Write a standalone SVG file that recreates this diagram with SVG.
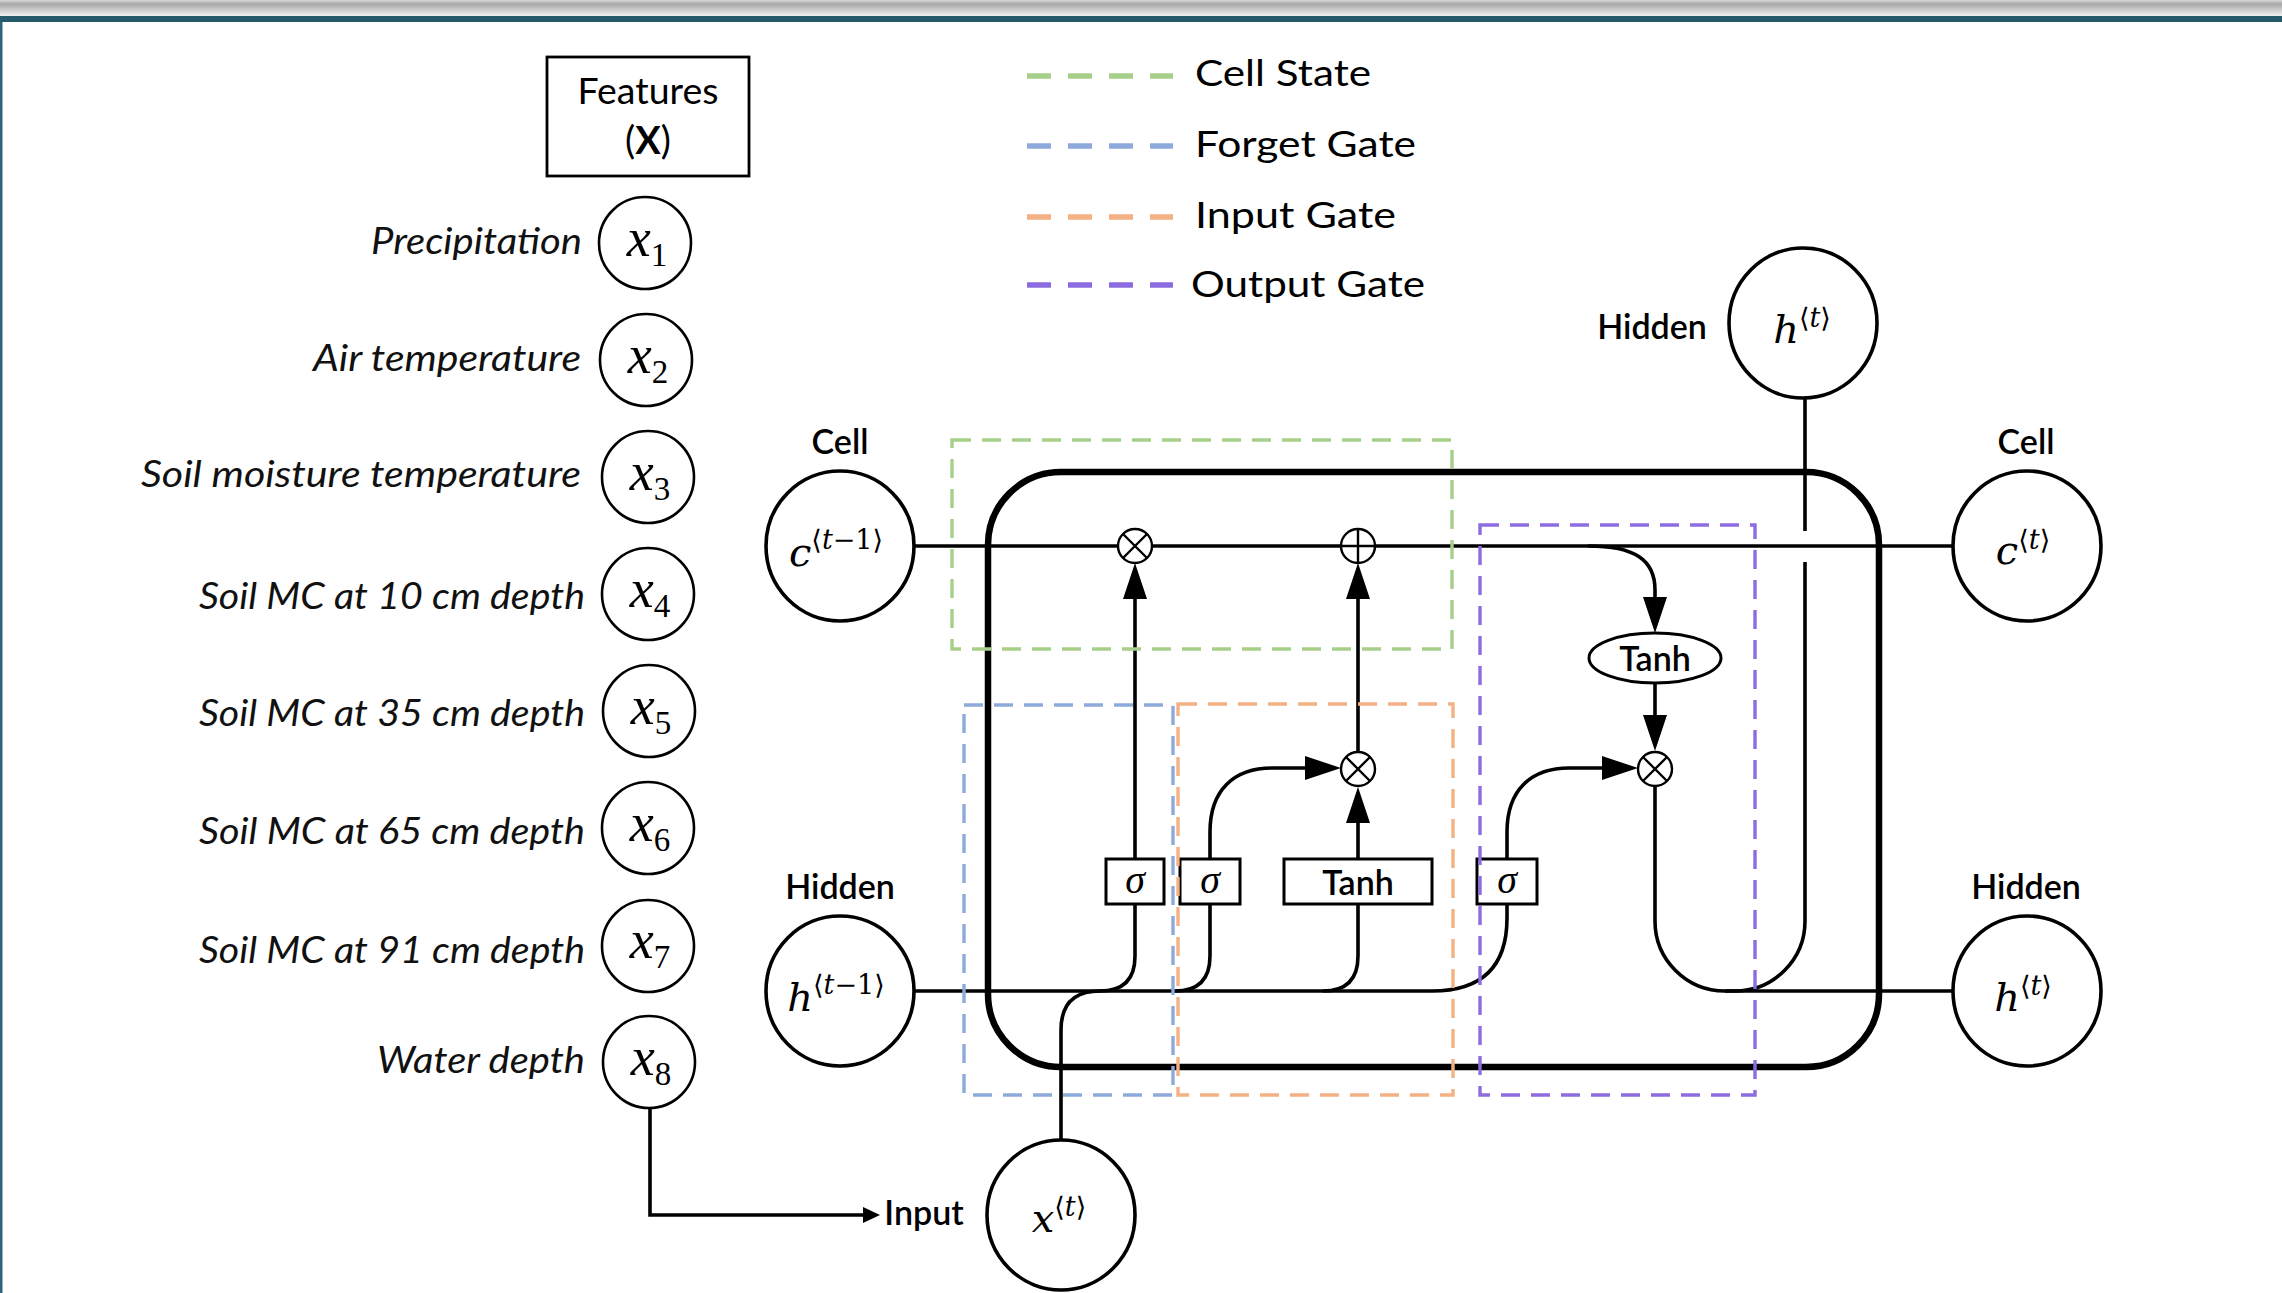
<svg xmlns="http://www.w3.org/2000/svg" width="2282" height="1293" viewBox="0 0 2282 1293">
<defs>
<linearGradient id="topbar" x1="0" y1="0" x2="0" y2="1">
<stop offset="0" stop-color="#d8d8d8"/>
<stop offset="0.25" stop-color="#a8a8a8"/>
<stop offset="1" stop-color="#f2f2f2"/>
</linearGradient>
<marker id="arr" markerUnits="userSpaceOnUse" markerWidth="36" markerHeight="24" refX="0" refY="12" orient="auto">
<path d="M0,0 L36,12 L0,24 z" fill="#000"/>
</marker>
<marker id="arrs" markerUnits="userSpaceOnUse" markerWidth="17" markerHeight="16" refX="0" refY="8" orient="auto">
<path d="M0,0 L17,8 L0,16 z" fill="#000"/>
</marker>
</defs>
<style>
.lbl{font-family:Lato,"Open Sans","Liberation Sans",sans-serif;fill:#000}
.feat{font-family:Lato,"Open Sans","Liberation Sans",sans-serif;font-style:italic;font-size:36px;text-anchor:end;fill:#111}
.leg{font-family:Lato,"Open Sans","Liberation Sans",sans-serif;font-size:36px;fill:#000}
.gill{font-family:Lato,"Open Sans","Liberation Sans",sans-serif;font-size:34px;font-weight:600;fill:#000;text-anchor:middle}
.math{font-family:"Liberation Serif","DejaVu Serif",serif;fill:#000;text-anchor:middle}
.cm{font-family:"DejaVu Serif","Liberation Serif",serif;fill:#000;text-anchor:middle}
.fc{fill:#fff;stroke:#000;stroke-width:2.6}
.nc{fill:#fff;stroke:#000;stroke-width:3.6}
.box{fill:#fff;stroke:#000;stroke-width:3}
.ln{fill:none;stroke:#000;stroke-width:3.6}
.thick{fill:none;stroke:#000;stroke-width:6.5}
.op{fill:#fff;stroke:#000;stroke-width:2.4}
.opx{stroke:#000;stroke-width:2.4}
.dash{fill:none;stroke-width:3.4;stroke-dasharray:19 11}
.legd{stroke-width:5.5;stroke-dasharray:24 17}
</style>
<rect x="0" y="0" width="2282" height="1293" fill="#fff"/>
<rect x="0" y="0" width="2282" height="16" fill="url(#topbar)"/>
<rect x="0" y="16" width="2282" height="6" fill="#275b6b"/>
<rect x="0" y="22" width="2.5" height="1271" fill="#2f6677"/>

<g id="features-header">
<rect x="547" y="57" width="202" height="119" fill="#fff" stroke="#000" stroke-width="2.8"/>
<text class="lbl" x="648" y="104" font-size="37" text-anchor="middle" textLength="141" lengthAdjust="spacingAndGlyphs">Features</text>
<text class="lbl" x="648" y="154" font-size="38" text-anchor="middle">(<tspan font-weight="bold">X</tspan>)</text>
</g>

<g id="feature-x1"><text class="feat" x="582" y="254" textLength="211" lengthAdjust="spacingAndGlyphs">Precipitation</text><ellipse class="fc" cx="645" cy="243" rx="46" ry="46"/><text class="math" x="647" y="256" font-size="54"><tspan font-style="italic">x</tspan><tspan font-size="33" dy="10">1</tspan></text></g>
<g id="feature-x2"><text class="feat" x="581" y="371" textLength="268" lengthAdjust="spacingAndGlyphs">Air temperature</text><ellipse class="fc" cx="646" cy="360" rx="46" ry="46"/><text class="math" x="648" y="373" font-size="54"><tspan font-style="italic">x</tspan><tspan font-size="33" dy="10">2</tspan></text></g>
<g id="feature-x3"><text class="feat" x="581" y="487" textLength="440" lengthAdjust="spacingAndGlyphs">Soil moisture temperature</text><ellipse class="fc" cx="648" cy="477" rx="46" ry="46"/><text class="math" x="650" y="490" font-size="54"><tspan font-style="italic">x</tspan><tspan font-size="33" dy="10">3</tspan></text></g>
<g id="feature-x4"><text class="feat" x="585" y="609" textLength="386" lengthAdjust="spacingAndGlyphs">Soil MC at 10 cm depth</text><ellipse class="fc" cx="648" cy="594" rx="46" ry="46"/><text class="math" x="650" y="607" font-size="54"><tspan font-style="italic">x</tspan><tspan font-size="33" dy="10">4</tspan></text></g>
<g id="feature-x5"><text class="feat" x="585" y="726" textLength="386" lengthAdjust="spacingAndGlyphs">Soil MC at 35 cm depth</text><ellipse class="fc" cx="649" cy="711" rx="46" ry="46"/><text class="math" x="651" y="724" font-size="54"><tspan font-style="italic">x</tspan><tspan font-size="33" dy="10">5</tspan></text></g>
<g id="feature-x6"><text class="feat" x="585" y="844" textLength="386" lengthAdjust="spacingAndGlyphs">Soil MC at 65 cm depth</text><ellipse class="fc" cx="648" cy="828" rx="46" ry="46"/><text class="math" x="650" y="841" font-size="54"><tspan font-style="italic">x</tspan><tspan font-size="33" dy="10">6</tspan></text></g>
<g id="feature-x7"><text class="feat" x="585" y="963" textLength="386" lengthAdjust="spacingAndGlyphs">Soil MC at 91 cm depth</text><ellipse class="fc" cx="648" cy="946" rx="46" ry="46"/><text class="math" x="650" y="958" font-size="54"><tspan font-style="italic">x</tspan><tspan font-size="33" dy="10">7</tspan></text></g>
<g id="feature-x8"><text class="feat" x="585" y="1073" textLength="208" lengthAdjust="spacingAndGlyphs">Water depth</text><ellipse class="fc" cx="649" cy="1062" rx="46" ry="46"/><text class="math" x="651" y="1075" font-size="54"><tspan font-style="italic">x</tspan><tspan font-size="33" dy="10">8</tspan></text></g>

<g id="legend">
<line class="legd" x1="1027" y1="76" x2="1173" y2="76" stroke="#a6d08a"/>
<text class="leg" x="1195" y="86" textLength="176" lengthAdjust="spacingAndGlyphs">Cell State</text>
<line class="legd" x1="1027" y1="146" x2="1173" y2="146" stroke="#8eaadb"/>
<text class="leg" x="1195" y="157" textLength="221" lengthAdjust="spacingAndGlyphs">Forget Gate</text>
<line class="legd" x1="1027" y1="217" x2="1173" y2="217" stroke="#f4b183"/>
<text class="leg" x="1195" y="228" textLength="201" lengthAdjust="spacingAndGlyphs">Input Gate</text>
<line class="legd" x1="1027" y1="285" x2="1173" y2="285" stroke="#8c6ce0"/>
<text class="leg" x="1191" y="297" textLength="234" lengthAdjust="spacingAndGlyphs">Output Gate</text>
</g>

<g id="connectors">
<rect class="thick" x="988" y="472" width="891" height="595" rx="73" ry="73"/>
<path class="ln" d="M914,546 H1953"/>
<path class="ln" d="M1588,546 C1635,546 1655,560 1655,590 V597" marker-end="url(#arr)"/>
<path class="ln" d="M1135,858 V599" marker-end="url(#arr)"/>
<path class="ln" d="M1358,751 V599" marker-end="url(#arr)"/>
<path class="ln" d="M1358,858 V823" marker-end="url(#arr)"/>
<path class="ln" d="M1210,858 V832 C1210,790 1234,768 1272,768 H1305" marker-end="url(#arr)"/>
<path class="ln" d="M1507,858 V832 C1507,790 1531,768 1569,768 H1602" marker-end="url(#arr)"/>
<path class="ln" d="M1655,683 V715" marker-end="url(#arr)"/>
<path class="ln" d="M914,991 H1432 Q1507,991 1507,918 V904"/>
<path class="ln" d="M1135,904 V956 Q1135,991 1100,991"/>
<path class="ln" d="M1210,904 V956 Q1210,991 1175,991"/>
<path class="ln" d="M1358,904 V956 Q1358,991 1323,991"/>
<path class="ln" d="M1061,1140 V1030 Q1061,991 1100,991"/>
<path class="ln" d="M1655,787 V921 A70,70 0 0 0 1725,991 H1735 A70,70 0 0 0 1805,921 V562"/>
<path class="ln" d="M1805,531 V397"/>
<path class="ln" d="M1725,991 H1953"/>
<path class="ln" d="M650,1108 V1215 H863" stroke-width="3.2" marker-end="url(#arrs)"/>
</g>

<g id="op-forget-mult"><circle class="op" cx="1135" cy="546" r="17"/><path class="opx" d="M1123,534 L1147,558 M1147,534 L1123,558"/></g>
<g id="op-add"><circle class="op" cx="1358" cy="546" r="17"/><path class="opx" d="M1341,546 H1375 M1358,529 V563"/></g>
<g id="op-input-mult"><circle class="op" cx="1358" cy="769" r="17"/><path class="opx" d="M1346,757 L1370,781 M1370,757 L1346,781"/></g>
<g id="op-output-mult"><circle class="op" cx="1655" cy="769" r="17"/><path class="opx" d="M1643,757 L1667,781 M1667,757 L1643,781"/></g>

<g id="sigma-forget"><rect class="box" x="1106" y="859" width="58" height="45"/><text class="math" x="1135" y="893" font-size="40" font-style="italic">σ</text></g>
<g id="sigma-input"><rect class="box" x="1180" y="859" width="60" height="45"/><text class="math" x="1210" y="893" font-size="40" font-style="italic">σ</text></g>
<g id="tanh-input"><rect class="box" x="1284" y="859" width="148" height="45"/><text class="gill" x="1358" y="895" font-size="37">Tanh</text></g>
<g id="sigma-output"><rect class="box" x="1477" y="859" width="60" height="45"/><text class="math" x="1507" y="893" font-size="40" font-style="italic">σ</text></g>
<g id="tanh-output"><ellipse class="box" cx="1655" cy="658" rx="66" ry="25"/><text class="gill" x="1655" y="671" font-size="37">Tanh</text></g>

<g id="c-prev"><text class="gill" x="840" y="454">Cell</text><ellipse class="nc" cx="840" cy="546" rx="74" ry="75"/><text class="cm" x="836" y="566" font-size="40"><tspan font-style="italic">c</tspan><tspan font-size="27" dy="-17">⟨<tspan font-style="italic">t</tspan>−1⟩</tspan></text></g>
<g id="h-prev"><text class="gill" x="840" y="899">Hidden</text><ellipse class="nc" cx="840" cy="991" rx="74" ry="75"/><text class="cm" x="836" y="1011" font-size="40"><tspan font-style="italic">h</tspan><tspan font-size="27" dy="-17">⟨<tspan font-style="italic">t</tspan>−1⟩</tspan></text></g>
<g id="x-t"><text class="gill" x="924" y="1225">Input</text><ellipse class="nc" cx="1061" cy="1215" rx="74" ry="75"/><text class="cm" x="1059" y="1232" font-size="40"><tspan font-style="italic">x</tspan><tspan font-size="27" dy="-16">⟨<tspan font-style="italic">t</tspan>⟩</tspan></text></g>
<g id="h-t-top"><text class="gill" x="1652" y="339">Hidden</text><ellipse class="nc" cx="1803" cy="323" rx="74" ry="75"/><text class="cm" x="1802" y="343" font-size="40"><tspan font-style="italic">h</tspan><tspan font-size="27" dy="-16">⟨<tspan font-style="italic">t</tspan>⟩</tspan></text></g>
<g id="c-t"><text class="gill" x="2026" y="454">Cell</text><ellipse class="nc" cx="2027" cy="546" rx="74" ry="75"/><text class="cm" x="2023" y="564" font-size="40"><tspan font-style="italic">c</tspan><tspan font-size="27" dy="-15">⟨<tspan font-style="italic">t</tspan>⟩</tspan></text></g>
<g id="h-t"><text class="gill" x="2026" y="899">Hidden</text><ellipse class="nc" cx="2027" cy="991" rx="74" ry="75"/><text class="cm" x="2023" y="1011" font-size="40"><tspan font-style="italic">h</tspan><tspan font-size="27" dy="-16">⟨<tspan font-style="italic">t</tspan>⟩</tspan></text></g>

<g id="gate-regions">
<rect class="dash" x="952" y="440" width="500" height="209" stroke="#a6d08a"/>
<rect class="dash" x="964" y="705" width="209" height="390" stroke="#8eaadb"/>
<rect class="dash" x="1178" y="704" width="275" height="391" stroke="#f4b183"/>
<rect class="dash" x="1480" y="525" width="275" height="570" stroke="#8c6ce0"/>
</g>
</svg>
